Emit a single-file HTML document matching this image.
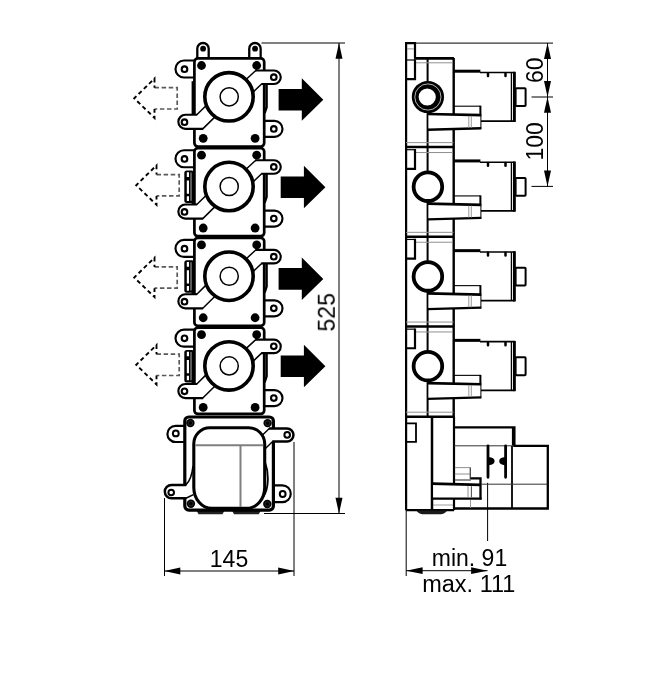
<!DOCTYPE html>
<html lang="en"><head><meta charset="utf-8"><title>Dimension drawing</title>
<style>html,body{margin:0;padding:0;background:#fff}svg{display:block}text{font-family:"Liberation Sans",Arial,sans-serif;fill:#000}</style>
</head><body>
<svg width="650" height="699" viewBox="0 0 650 699">
<rect width="650" height="699" fill="#fff"/>
<g stroke="#000" stroke-width="1" fill="none">
<path d="M261.5,43 H345"/>
<path d="M339,43 V513.5"/>
<path d="M264,513.5 H345"/>
<path d="M164.5,498 V576"/>
<path d="M294,442 V576"/>
<path d="M164.3,571 H294.2"/>
<path d="M415,43.1 H553"/>
<path d="M547.5,43 V186.4"/>
<path d="M531.5,97 H553"/>
<path d="M531.5,186.4 H553"/>
<path d="M406.2,510 V576"/>
<path d="M487.6,482.8 V541"/>
<path d="M406.2,570.7 H487.5"/>
</g>
<polygon points="339.0,43.0 335.5,58.8 342.5,58.8" fill="#000"/>
<polygon points="339.0,513.5 335.5,497.7 342.5,497.7" fill="#000"/>
<polygon points="164.3,571.0 180.3,567.6 180.3,574.4" fill="#000"/>
<polygon points="294.2,571.0 278.2,567.6 278.2,574.4" fill="#000"/>
<polygon points="547.5,43.1 544.0,58.9 551.0,58.9" fill="#000"/>
<polygon points="547.5,96.9 544.0,81.1 551.0,81.1" fill="#000"/>
<polygon points="547.5,96.9 544.0,112.7 551.0,112.7" fill="#000"/>
<polygon points="547.5,186.4 544.0,170.6 551.0,170.6" fill="#000"/>
<polygon points="406.2,570.7 422.6,567.3 422.6,574.1" fill="#000"/>
<polygon points="487.5,570.7 471.1,567.3 471.1,574.1" fill="#000"/>
<g>
<path d="M184.8,425.8 H175.5 A8.1,8.1 0 0 0 175.5,442 H184.8" fill="#fff" stroke="#000" stroke-width="2.15"/>
<circle cx="175.8" cy="433.4" r="2.9" fill="#fff" stroke="#000" stroke-width="2"/>
<path d="M273.4,485.4 H282.4 A8.35,8.35 0 0 1 282.4,502.1 H273.4" fill="#fff" stroke="#000" stroke-width="2.15"/>
<circle cx="282.7" cy="494" r="2.9" fill="#fff" stroke="#000" stroke-width="2"/>
<path d="M196.5,510.5 H224.5 L222.5,514.3 H198.5 Z" fill="#222"/>
<path d="M232,510.5 H260.8 L258.8,514.3 H234 Z" fill="#222"/>
<rect x="184.8" y="417" width="88.6" height="93.1" rx="4" fill="#fff" stroke="#000" stroke-width="3.2"/>
<path d="M261,436 L268.9,428.6 H287 A6.45,6.45 0 0 1 287,441.5 H272.2 L264,450 Z" fill="#fff" stroke="none"/>
<path d="M268.9,428.6 H287 A6.45,6.45 0 0 1 287,441.5 H272.2" fill="none" stroke="#000" stroke-width="2.5"/>
<path d="M269.3,428.6 L262,435.5 M272.6,441.5 L265.2,448.8" fill="none" stroke="#000" stroke-width="1.4"/>
<circle cx="287.2" cy="434.9" r="2.8" fill="#fff" stroke="#000" stroke-width="2"/>
<path d="M193,470 L186.4,484.9 H171.5 A6.7,6.7 0 0 0 171.5,498.3 H186.2 L196,492 Z" fill="#fff" stroke="none"/>
<path d="M186.4,484.9 H171.5 A6.7,6.7 0 0 0 171.5,498.3 H186.2" fill="none" stroke="#000" stroke-width="2.5"/>
<path d="M185.8,484.9 Q191.5,480 193,466 M185.9,498.3 L193.4,494.6" fill="none" stroke="#000" stroke-width="1.6"/>
<circle cx="171.2" cy="492.5" r="2.8" fill="#fff" stroke="#000" stroke-width="2"/>
<circle cx="190.4" cy="423" r="4.2" fill="#000"/>
<circle cx="190.4" cy="423" r="2.3" fill="none" stroke="#444" stroke-width="0.6"/>
<circle cx="267.6" cy="423.1" r="4.2" fill="#000"/>
<circle cx="267.6" cy="423.1" r="2.3" fill="none" stroke="#444" stroke-width="0.6"/>
<circle cx="190.9" cy="503.7" r="4.2" fill="#000"/>
<circle cx="190.9" cy="503.7" r="2.3" fill="none" stroke="#444" stroke-width="0.6"/>
<circle cx="267.3" cy="504" r="4.2" fill="#000"/>
<circle cx="267.3" cy="504" r="2.3" fill="none" stroke="#444" stroke-width="0.6"/>
<path d="M265,462 C268.8,472 269.5,488 263,497.5 C258.5,503.5 252,507.5 246,508.8" fill="none" stroke="#000" stroke-width="1.8"/>
<path d="M196.5,497 C201.5,503.5 207.8,507.5 212.8,508.6" fill="none" stroke="#000" stroke-width="1.6"/>
<path d="M209.8,427.8 H248.7 A16,16 0 0 1 264.7,443.8 V487.4 A18,21 0 0 1 246.7,508.4 H211.8 A18,21 0 0 1 193.8,487.4 V443.8 A16,16 0 0 1 209.8,427.8 Z" fill="#fff" stroke="#000" stroke-width="3.1"/>
<path d="M195.3,445.2 H263.2 M240.5,445.2 V507" stroke="#808080" stroke-width="2" fill="none"/>
</g>
<g transform="translate(0,269.36)">
<path d="M194.5,60.3 H184 A8.5,8.5 0 0 0 184,77.3 H194.5" fill="#fff" stroke="#000" stroke-width="2.15"/>
<circle cx="184.5" cy="69" r="2.8" fill="#fff" stroke="#000" stroke-width="2.1"/>
<path d="M264.2,120.7 H274.5 A8,8 0 0 1 274.5,136.7 H264.2" fill="#fff" stroke="#000" stroke-width="2.15"/>
<circle cx="273.8" cy="128.7" r="2.8" fill="#fff" stroke="#000" stroke-width="2.1"/>
<rect x="184.3" y="80.6" width="9.5" height="32.6" rx="2.5" fill="#000"/>
<path d="M187.9,82.4 V87 M187.9,90.6 V103.8 M187.9,106.3 V111" stroke="#fff" stroke-width="2.2" fill="none"/>
<path d="M191.2,82.6 V110.8" stroke="#aaa" stroke-width="1.4" fill="none"/>
<rect x="194.4" y="58.2" width="69.8" height="86.4" rx="3.5" fill="#fff" stroke="#000" stroke-width="2.7"/>
<path d="M192.9,81 V114.5" stroke="#000" stroke-width="2.6" fill="none"/>
<path d="M266.6,84 V107 L264.6,113" stroke="#000" stroke-width="2.4" fill="none"/>
<path d="M245,79 L255.3,70.3 H274 A6.75,6.75 0 0 1 274,83.8 H261.2 L252,92.5 Z" fill="#fff" stroke="none"/>
<path d="M255.3,70.3 H274 A6.75,6.75 0 0 1 274,83.8 H261.2" fill="none" stroke="#000" stroke-width="2.15"/>
<path d="M255.8,70.3 L246,79.3 M261.6,83.8 L253,92" fill="none" stroke="#000" stroke-width="1.5"/>
<circle cx="273.8" cy="77" r="2.8" fill="#fff" stroke="#000" stroke-width="2.1"/>
<path d="M207,104.5 L197.2,114.6 H185.4 A7.05,7.05 0 0 0 185.4,128.7 H203.2 L216,116 Z" fill="#fff" stroke="none"/>
<path d="M197.2,114.6 H185.4 A7.05,7.05 0 0 0 185.4,128.7 H203.2" fill="none" stroke="#000" stroke-width="2.15"/>
<path d="M196.8,114.6 L207,104.5 M202.8,128.7 L215.5,116.2" fill="none" stroke="#000" stroke-width="1.5"/>
<circle cx="184.5" cy="122" r="2.8" fill="#fff" stroke="#000" stroke-width="2.1"/>
<circle cx="201.5" cy="65.3" r="4.4" fill="#000"/>
<circle cx="256.7" cy="65.3" r="4.4" fill="#000"/>
<circle cx="203.2" cy="138.1" r="4.4" fill="#000"/>
<circle cx="255.1" cy="138.1" r="4.4" fill="#000"/>
<circle cx="229" cy="96.6" r="24.2" fill="#fff" stroke="#000" stroke-width="3.6"/>
<circle cx="229.2" cy="96.6" r="9.1" fill="#fff" stroke="#000" stroke-width="1.5"/>
</g>
<g transform="translate(0,179.64)">
<path d="M194.5,60.3 H184 A8.5,8.5 0 0 0 184,77.3 H194.5" fill="#fff" stroke="#000" stroke-width="2.15"/>
<circle cx="184.5" cy="69" r="2.8" fill="#fff" stroke="#000" stroke-width="2.1"/>
<path d="M264.2,120.7 H274.5 A8,8 0 0 1 274.5,136.7 H264.2" fill="#fff" stroke="#000" stroke-width="2.15"/>
<circle cx="273.8" cy="128.7" r="2.8" fill="#fff" stroke="#000" stroke-width="2.1"/>
<rect x="184.3" y="80.6" width="9.5" height="32.6" rx="2.5" fill="#000"/>
<path d="M187.9,82.4 V87 M187.9,90.6 V103.8 M187.9,106.3 V111" stroke="#fff" stroke-width="2.2" fill="none"/>
<path d="M191.2,82.6 V110.8" stroke="#aaa" stroke-width="1.4" fill="none"/>
<rect x="194.4" y="58.2" width="69.8" height="88.1" rx="3.5" fill="#fff" stroke="#000" stroke-width="2.7"/>
<path d="M192.9,81 V114.5" stroke="#000" stroke-width="2.6" fill="none"/>
<path d="M266.6,84 V107 L264.6,113" stroke="#000" stroke-width="2.4" fill="none"/>
<path d="M245,79 L255.3,70.3 H274 A6.75,6.75 0 0 1 274,83.8 H261.2 L252,92.5 Z" fill="#fff" stroke="none"/>
<path d="M255.3,70.3 H274 A6.75,6.75 0 0 1 274,83.8 H261.2" fill="none" stroke="#000" stroke-width="2.15"/>
<path d="M255.8,70.3 L246,79.3 M261.6,83.8 L253,92" fill="none" stroke="#000" stroke-width="1.5"/>
<circle cx="273.8" cy="77" r="2.8" fill="#fff" stroke="#000" stroke-width="2.1"/>
<path d="M207,104.5 L197.2,114.6 H185.4 A7.05,7.05 0 0 0 185.4,128.7 H203.2 L216,116 Z" fill="#fff" stroke="none"/>
<path d="M197.2,114.6 H185.4 A7.05,7.05 0 0 0 185.4,128.7 H203.2" fill="none" stroke="#000" stroke-width="2.15"/>
<path d="M196.8,114.6 L207,104.5 M202.8,128.7 L215.5,116.2" fill="none" stroke="#000" stroke-width="1.5"/>
<circle cx="184.5" cy="122" r="2.8" fill="#fff" stroke="#000" stroke-width="2.1"/>
<circle cx="201.5" cy="65.3" r="4.4" fill="#000"/>
<circle cx="256.7" cy="65.3" r="4.4" fill="#000"/>
<circle cx="203.2" cy="138.1" r="4.4" fill="#000"/>
<circle cx="255.1" cy="138.1" r="4.4" fill="#000"/>
<circle cx="229" cy="96.6" r="24.2" fill="#fff" stroke="#000" stroke-width="3.6"/>
<circle cx="229.2" cy="96.6" r="9.1" fill="#fff" stroke="#000" stroke-width="1.5"/>
</g>
<g transform="translate(0,89.92)">
<path d="M194.5,60.3 H184 A8.5,8.5 0 0 0 184,77.3 H194.5" fill="#fff" stroke="#000" stroke-width="2.15"/>
<circle cx="184.5" cy="69" r="2.8" fill="#fff" stroke="#000" stroke-width="2.1"/>
<path d="M264.2,120.7 H274.5 A8,8 0 0 1 274.5,136.7 H264.2" fill="#fff" stroke="#000" stroke-width="2.15"/>
<circle cx="273.8" cy="128.7" r="2.8" fill="#fff" stroke="#000" stroke-width="2.1"/>
<rect x="184.3" y="80.6" width="9.5" height="32.6" rx="2.5" fill="#000"/>
<path d="M187.9,82.4 V87 M187.9,90.6 V103.8 M187.9,106.3 V111" stroke="#fff" stroke-width="2.2" fill="none"/>
<path d="M191.2,82.6 V110.8" stroke="#aaa" stroke-width="1.4" fill="none"/>
<rect x="194.4" y="58.2" width="69.8" height="88.1" rx="3.5" fill="#fff" stroke="#000" stroke-width="2.7"/>
<path d="M192.9,81 V114.5" stroke="#000" stroke-width="2.6" fill="none"/>
<path d="M266.6,84 V107 L264.6,113" stroke="#000" stroke-width="2.4" fill="none"/>
<path d="M245,79 L255.3,70.3 H274 A6.75,6.75 0 0 1 274,83.8 H261.2 L252,92.5 Z" fill="#fff" stroke="none"/>
<path d="M255.3,70.3 H274 A6.75,6.75 0 0 1 274,83.8 H261.2" fill="none" stroke="#000" stroke-width="2.15"/>
<path d="M255.8,70.3 L246,79.3 M261.6,83.8 L253,92" fill="none" stroke="#000" stroke-width="1.5"/>
<circle cx="273.8" cy="77" r="2.8" fill="#fff" stroke="#000" stroke-width="2.1"/>
<path d="M207,104.5 L197.2,114.6 H185.4 A7.05,7.05 0 0 0 185.4,128.7 H203.2 L216,116 Z" fill="#fff" stroke="none"/>
<path d="M197.2,114.6 H185.4 A7.05,7.05 0 0 0 185.4,128.7 H203.2" fill="none" stroke="#000" stroke-width="2.15"/>
<path d="M196.8,114.6 L207,104.5 M202.8,128.7 L215.5,116.2" fill="none" stroke="#000" stroke-width="1.5"/>
<circle cx="184.5" cy="122" r="2.8" fill="#fff" stroke="#000" stroke-width="2.1"/>
<circle cx="201.5" cy="65.3" r="4.4" fill="#000"/>
<circle cx="256.7" cy="65.3" r="4.4" fill="#000"/>
<circle cx="203.2" cy="138.1" r="4.4" fill="#000"/>
<circle cx="255.1" cy="138.1" r="4.4" fill="#000"/>
<circle cx="229" cy="96.6" r="24.2" fill="#fff" stroke="#000" stroke-width="3.6"/>
<circle cx="229.2" cy="96.6" r="9.1" fill="#fff" stroke="#000" stroke-width="1.5"/>
</g>
<g transform="translate(0,0.20)">
<path d="M194.5,60.3 H184 A8.5,8.5 0 0 0 184,77.3 H194.5" fill="#fff" stroke="#000" stroke-width="2.15"/>
<circle cx="184.5" cy="69" r="2.8" fill="#fff" stroke="#000" stroke-width="2.1"/>
<path d="M264.2,120.7 H274.5 A8,8 0 0 1 274.5,136.7 H264.2" fill="#fff" stroke="#000" stroke-width="2.15"/>
<circle cx="273.8" cy="128.7" r="2.8" fill="#fff" stroke="#000" stroke-width="2.1"/>
<path d="M197.3,58 V48.5 A5.7,5.7 0 0 1 208.7,48.5 V58" fill="#fff" stroke="#000" stroke-width="2.3"/>
<circle cx="203.1" cy="48.5" r="2.9" fill="#000"/>
<path d="M249.25,58 V48.5 A5.7,5.7 0 0 1 260.65,48.5 V58" fill="#fff" stroke="#000" stroke-width="2.3"/>
<circle cx="255.04999999999998" cy="48.5" r="2.9" fill="#000"/>
<rect x="194.4" y="58.2" width="69.8" height="88.1" rx="3.5" fill="#fff" stroke="#000" stroke-width="2.7"/>
<path d="M192.9,81 V114.5" stroke="#000" stroke-width="2.6" fill="none"/>
<path d="M266.6,84 V107 L264.6,113" stroke="#000" stroke-width="2.4" fill="none"/>
<path d="M245,79 L255.3,70.3 H274 A6.75,6.75 0 0 1 274,83.8 H261.2 L252,92.5 Z" fill="#fff" stroke="none"/>
<path d="M255.3,70.3 H274 A6.75,6.75 0 0 1 274,83.8 H261.2" fill="none" stroke="#000" stroke-width="2.15"/>
<path d="M255.8,70.3 L246,79.3 M261.6,83.8 L253,92" fill="none" stroke="#000" stroke-width="1.5"/>
<circle cx="273.8" cy="77" r="2.8" fill="#fff" stroke="#000" stroke-width="2.1"/>
<path d="M207,104.5 L197.2,114.6 H185.4 A7.05,7.05 0 0 0 185.4,128.7 H203.2 L216,116 Z" fill="#fff" stroke="none"/>
<path d="M197.2,114.6 H185.4 A7.05,7.05 0 0 0 185.4,128.7 H203.2" fill="none" stroke="#000" stroke-width="2.15"/>
<path d="M196.8,114.6 L207,104.5 M202.8,128.7 L215.5,116.2" fill="none" stroke="#000" stroke-width="1.5"/>
<circle cx="184.5" cy="122" r="2.8" fill="#fff" stroke="#000" stroke-width="2.1"/>
<circle cx="201.5" cy="65.3" r="4.4" fill="#000"/>
<circle cx="256.7" cy="65.3" r="4.4" fill="#000"/>
<circle cx="203.2" cy="138.1" r="4.4" fill="#000"/>
<circle cx="255.1" cy="138.1" r="4.4" fill="#000"/>
<circle cx="229" cy="96.6" r="24.2" fill="#fff" stroke="#000" stroke-width="3.6"/>
<circle cx="229.2" cy="96.6" r="9.1" fill="#fff" stroke="#000" stroke-width="1.5"/>
</g>
<polygon points="278.6,88.9 301.8,88.9 301.8,78.2 323.3,99.7 301.8,120.7 301.8,110.5 278.6,110.5" fill="#000"/>
<polygon points="280.7,176.4 303.9,176.4 303.9,165.7 325.4,187.2 303.9,208.2 303.9,198.0 280.7,198.0" fill="#000"/>
<polygon points="278.6,268.1 301.8,268.1 301.8,257.4 323.3,278.9 301.8,299.9 301.8,289.7 278.6,289.7" fill="#000"/>
<polygon points="280.7,355.5 303.9,355.5 303.9,344.8 325.4,366.3 303.9,387.3 303.9,377.1 280.7,377.1" fill="#000"/>
<path d="M154.5,87.7 H177.2 V109.0 H154.5" fill="none" stroke="#5a5a5a" stroke-width="1.7" stroke-dasharray="4.5 2.6"/>
<path d="M154.5,87.7 V78.5 L134.2,98.3 L154.5,117.9 V109.0" fill="none" stroke="#000" stroke-width="1.9" stroke-dasharray="4.2 3.1" stroke-dashoffset="2"/>
<path d="M156.5,174.6 H179.2 V195.89999999999998 H156.5" fill="none" stroke="#5a5a5a" stroke-width="1.7" stroke-dasharray="4.5 2.6"/>
<path d="M156.5,174.6 V165.39999999999998 L136.2,185.2 L156.5,204.79999999999998 V195.89999999999998" fill="none" stroke="#000" stroke-width="1.9" stroke-dasharray="4.2 3.1" stroke-dashoffset="2"/>
<path d="M154.5,266.9 H177.2 V288.2 H154.5" fill="none" stroke="#5a5a5a" stroke-width="1.7" stroke-dasharray="4.5 2.6"/>
<path d="M154.5,266.9 V257.7 L134.2,277.5 L154.5,297.1 V288.2" fill="none" stroke="#000" stroke-width="1.9" stroke-dasharray="4.2 3.1" stroke-dashoffset="2"/>
<path d="M156.5,354.2 H179.2 V375.5 H156.5" fill="none" stroke="#5a5a5a" stroke-width="1.7" stroke-dasharray="4.5 2.6"/>
<path d="M156.5,354.2 V345.0 L136.2,364.8 L156.5,384.40000000000003 V375.5" fill="none" stroke="#000" stroke-width="1.9" stroke-dasharray="4.2 3.1" stroke-dashoffset="2"/>
<g>
<path d="M406.1,42 V510.2" stroke="#000" stroke-width="2.2" fill="none"/>
<path d="M427.6,58 V417" stroke="#000" stroke-width="2" fill="none"/>
<path d="M453.7,58 V417" stroke="#000" stroke-width="2.4" fill="none"/>
<g transform="translate(0,0.40)">
<path d="M406.1,42.8 H415 V58" fill="none" stroke="#000" stroke-width="2.2"/>
<path d="M407,48.5 H414" stroke="#909090" stroke-width="1" fill="none"/>
<path d="M414.2,58 H453.9" stroke="#000" stroke-width="2.6" fill="none"/>
<path d="M415.8,62.4 H452.7" stroke="#909090" stroke-width="1" fill="none"/>
<path d="M406,59.6 H415" stroke="#000" stroke-width="1.2" fill="none"/>
<path d="M415,59 V78.7 H406" stroke="#000" stroke-width="2.2" fill="none"/>
<path d="M454,70.8 H480.4" stroke="#000" stroke-width="3" fill="none"/>
<path d="M480,72.1 H514.8" stroke="#000" stroke-width="1.6" fill="none"/>
<path d="M514.4,71.4 V121.6" stroke="#000" stroke-width="2.9" fill="none"/>
<path d="M511.4,72.2 V120.8" stroke="#000" stroke-width="1.3" fill="none"/>
<path d="M480.4,120.8 H514.8" stroke="#000" stroke-width="1.8" fill="none"/>
<path d="M488,73 V75.6 M505.5,73 V75.6" stroke="#000" stroke-width="2.5" fill="none" stroke-linecap="round"/>
<rect x="515.6" y="87.8" width="10" height="17.9" rx="0.8" fill="#fff" stroke="#000" stroke-width="2"/>
<path d="M454,105.8 H480.4" stroke="#000" stroke-width="1.1" fill="none"/>
<path d="M480.4,105.3 V128.6" stroke="#000" stroke-width="2" fill="none"/>
<path d="M428.6,113.6 L480.4,114.7 V127.8 L428.6,129.3 Z" fill="#fff" stroke="none"/>
<path d="M427.6,113.6 L481.3,114.7" stroke="#000" stroke-width="2.7" fill="none"/>
<path d="M427.6,129.3 L481.3,127.8" stroke="#000" stroke-width="2.4" fill="none"/>
<path d="M468.8,115.5 V127.5 M471.3,115.5 V127.5" stroke="#909090" stroke-width="0.9" fill="none"/>
</g>
<g transform="translate(0,90.12)">
<path d="M406,52.5 H453.5" stroke="#909090" stroke-width="1" fill="none"/>
<path d="M406,56.9 H453.9" stroke="#000" stroke-width="2.6" fill="none"/>
<path d="M415.8,62.4 H452.7" stroke="#909090" stroke-width="1" fill="none"/>
<path d="M406,59.6 H415" stroke="#000" stroke-width="1.2" fill="none"/>
<path d="M415,59 V78.7 H406" stroke="#000" stroke-width="2.2" fill="none"/>
<path d="M454,70.8 H480.4" stroke="#000" stroke-width="3" fill="none"/>
<path d="M480,72.1 H514.8" stroke="#000" stroke-width="1.6" fill="none"/>
<path d="M514.4,71.4 V121.6" stroke="#000" stroke-width="2.9" fill="none"/>
<path d="M511.4,72.2 V120.8" stroke="#000" stroke-width="1.3" fill="none"/>
<path d="M480.4,120.8 H514.8" stroke="#000" stroke-width="1.8" fill="none"/>
<path d="M488,73 V75.6 M505.5,73 V75.6" stroke="#000" stroke-width="2.5" fill="none" stroke-linecap="round"/>
<rect x="515.6" y="87.8" width="10" height="17.9" rx="0.8" fill="#fff" stroke="#000" stroke-width="2"/>
<path d="M454,105.8 H480.4" stroke="#000" stroke-width="1.1" fill="none"/>
<path d="M480.4,105.3 V128.6" stroke="#000" stroke-width="2" fill="none"/>
<path d="M428.6,113.6 L480.4,114.7 V127.8 L428.6,129.3 Z" fill="#fff" stroke="none"/>
<path d="M427.6,113.6 L481.3,114.7" stroke="#000" stroke-width="2.7" fill="none"/>
<path d="M427.6,129.3 L481.3,127.8" stroke="#000" stroke-width="2.4" fill="none"/>
<path d="M468.8,115.5 V127.5 M471.3,115.5 V127.5" stroke="#909090" stroke-width="0.9" fill="none"/>
</g>
<g transform="translate(0,179.84)">
<path d="M406,52.5 H453.5" stroke="#909090" stroke-width="1" fill="none"/>
<path d="M406,56.9 H453.9" stroke="#000" stroke-width="2.6" fill="none"/>
<path d="M415.8,62.4 H452.7" stroke="#909090" stroke-width="1" fill="none"/>
<path d="M406,59.6 H415" stroke="#000" stroke-width="1.2" fill="none"/>
<path d="M415,59 V78.7 H406" stroke="#000" stroke-width="2.2" fill="none"/>
<path d="M454,70.8 H480.4" stroke="#000" stroke-width="3" fill="none"/>
<path d="M480,72.1 H514.8" stroke="#000" stroke-width="1.6" fill="none"/>
<path d="M514.4,71.4 V121.6" stroke="#000" stroke-width="2.9" fill="none"/>
<path d="M511.4,72.2 V120.8" stroke="#000" stroke-width="1.3" fill="none"/>
<path d="M480.4,120.8 H514.8" stroke="#000" stroke-width="1.8" fill="none"/>
<path d="M488,73 V75.6 M505.5,73 V75.6" stroke="#000" stroke-width="2.5" fill="none" stroke-linecap="round"/>
<rect x="515.6" y="87.8" width="10" height="17.9" rx="0.8" fill="#fff" stroke="#000" stroke-width="2"/>
<path d="M454,105.8 H480.4" stroke="#000" stroke-width="1.1" fill="none"/>
<path d="M480.4,105.3 V128.6" stroke="#000" stroke-width="2" fill="none"/>
<path d="M428.6,113.6 L480.4,114.7 V127.8 L428.6,129.3 Z" fill="#fff" stroke="none"/>
<path d="M427.6,113.6 L481.3,114.7" stroke="#000" stroke-width="2.7" fill="none"/>
<path d="M427.6,129.3 L481.3,127.8" stroke="#000" stroke-width="2.4" fill="none"/>
<path d="M468.8,115.5 V127.5 M471.3,115.5 V127.5" stroke="#909090" stroke-width="0.9" fill="none"/>
</g>
<g transform="translate(0,269.56)">
<path d="M406,52.5 H453.5" stroke="#909090" stroke-width="1" fill="none"/>
<path d="M406,56.9 H453.9" stroke="#000" stroke-width="2.6" fill="none"/>
<path d="M415.8,62.4 H452.7" stroke="#909090" stroke-width="1" fill="none"/>
<path d="M406,59.6 H415" stroke="#000" stroke-width="1.2" fill="none"/>
<path d="M415,59 V78.7 H406" stroke="#000" stroke-width="2.2" fill="none"/>
<path d="M454,70.8 H480.4" stroke="#000" stroke-width="3" fill="none"/>
<path d="M480,72.1 H514.8" stroke="#000" stroke-width="1.6" fill="none"/>
<path d="M514.4,71.4 V121.6" stroke="#000" stroke-width="2.9" fill="none"/>
<path d="M511.4,72.2 V120.8" stroke="#000" stroke-width="1.3" fill="none"/>
<path d="M480.4,120.8 H514.8" stroke="#000" stroke-width="1.8" fill="none"/>
<path d="M488,73 V75.6 M505.5,73 V75.6" stroke="#000" stroke-width="2.5" fill="none" stroke-linecap="round"/>
<rect x="515.6" y="87.8" width="10" height="17.9" rx="0.8" fill="#fff" stroke="#000" stroke-width="2"/>
<path d="M454,105.8 H480.4" stroke="#000" stroke-width="1.1" fill="none"/>
<path d="M480.4,105.3 V128.6" stroke="#000" stroke-width="2" fill="none"/>
<path d="M428.6,113.6 L480.4,114.7 V127.8 L428.6,129.3 Z" fill="#fff" stroke="none"/>
<path d="M427.6,113.6 L481.3,114.7" stroke="#000" stroke-width="2.7" fill="none"/>
<path d="M427.6,129.3 L481.3,127.8" stroke="#000" stroke-width="2.4" fill="none"/>
<path d="M468.8,115.5 V127.5 M471.3,115.5 V127.5" stroke="#909090" stroke-width="0.9" fill="none"/>
</g>
<circle cx="427.9" cy="97.00" r="16.1" fill="#000" stroke="none"/>
<circle cx="427.9" cy="97.00" r="13.1" fill="none" stroke="#fff" stroke-width="0.7"/>
<circle cx="427.2" cy="97.00" r="8.6" fill="#fff" stroke="none"/>
<circle cx="427.9" cy="186.72" r="14.3" fill="#fff" stroke="#000" stroke-width="3.8"/>
<circle cx="427.9" cy="276.44" r="14.3" fill="#fff" stroke="#000" stroke-width="3.8"/>
<circle cx="427.9" cy="366.16" r="14.3" fill="#fff" stroke="#000" stroke-width="3.8"/>
<path d="M406,412.2 H453.5" stroke="#909090" stroke-width="1" fill="none"/>
<path d="M406,416.7 H454.5" stroke="#000" stroke-width="2.6" fill="none"/>
<path d="M406,423.3 H416 V441.8 H406" stroke="#000" stroke-width="1.8" fill="none"/>
<path d="M432,416.7 V510.2" stroke="#000" stroke-width="2.5" fill="none"/>
<path d="M454,416.7 V510.2" stroke="#000" stroke-width="2.2" fill="none"/>
<path d="M454,427.4 H514.4 V445.8 H547.8 V508.5 H454" stroke="#000" stroke-width="2.3" fill="none"/>
<path d="M513.4,427.4 V445.8" stroke="#000" stroke-width="3" fill="none"/>
<path d="M406.1,510.2 H454" stroke="#000" stroke-width="2.2" fill="none"/>
<path d="M512,446 V508.5" stroke="#000" stroke-width="1.8" fill="none"/>
<path d="M454,445.8 H512 M481.5,484.2 H547.5" stroke="#333" stroke-width="1" fill="none"/>
<path d="M488,446 V477.3 M505.6,446 V477.3" stroke="#000" stroke-width="2.8" fill="none" stroke-linecap="round"/>
<path d="M488.5,457 Q494.6,457.4 494.6,461.1 Q494.6,464.8 488.5,465.2 Z M505.3,457 Q499.2,457.4 499.2,461.1 Q499.2,464.8 505.3,465.2 Z" fill="#000"/>
<path d="M454.8,467.6 H470.3 M454.8,474 H470.3" stroke="#909090" stroke-width="1" fill="none"/>
<path d="M470.3,467.6 V479" stroke="#444" stroke-width="1.3" fill="none"/>
<path d="M454.8,480 H471" stroke="#555" stroke-width="1.3" fill="none"/>
<path d="M433.2,483.8 L480.4,485 V498.6 H433.2 Z" fill="#fff" stroke="none"/>
<path d="M470.5,478.3 H480.5 V499.5" stroke="#000" stroke-width="2.3" fill="none"/>
<path d="M432,483.6 L480.5,484.9" stroke="#000" stroke-width="2.7" fill="none"/>
<path d="M432,498.6 H481.6" stroke="#000" stroke-width="2.4" fill="none"/>
<path d="M468,486.2 V497.3" stroke="#909090" stroke-width="1" fill="none"/>
<path d="M471.4,486.2 V497.3" stroke="#555" stroke-width="1.1" fill="none"/>
<path d="M433,505 H453 M470.5,500 V508" stroke="#909090" stroke-width="0.9" fill="none"/>
<path d="M416.5,510.5 H447 Q446,513.2 441,514.3 H422.5 Q417.5,513.2 416.5,510.5 Z" fill="#1a1a1a"/>
</g>
<g opacity="0.999">
<text x="229" y="567" font-size="23" text-anchor="middle">145</text>
<text transform="translate(334.8,312.3) rotate(-90)" font-size="23" text-anchor="middle">525</text>
<text transform="translate(543.3,70.2) rotate(-90)" font-size="23" text-anchor="middle">60</text>
<text transform="translate(543.3,141.4) rotate(-90)" font-size="23" text-anchor="middle">100</text>
<text x="469.5" y="565.7" font-size="23" text-anchor="middle">min. 91</text>
<text x="468.8" y="591.5" font-size="23.5" text-anchor="middle">max. 111</text>
</g>
</svg>
</body></html>
